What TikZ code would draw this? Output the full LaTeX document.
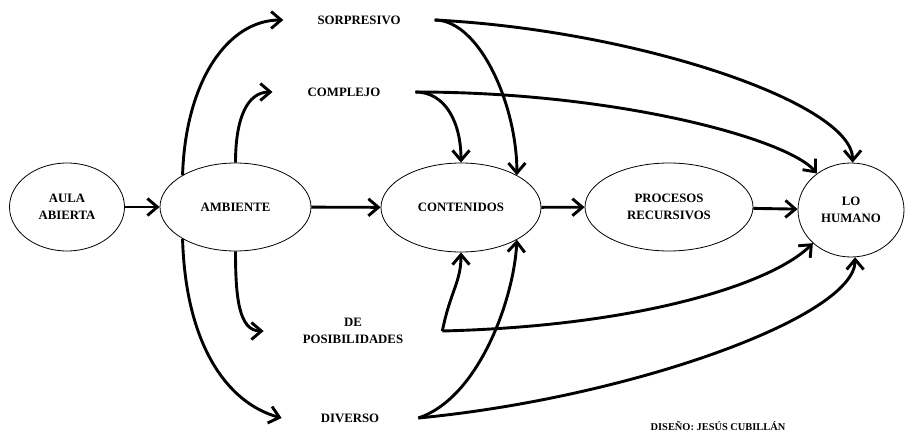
\documentclass[tikz,border=0pt]{standalone}
\usepackage{fontspec}
\setmainfont{Liberation Serif}
\usetikzlibrary{shapes.geometric,arrows.meta}
\begin{document}
\begin{tikzpicture}[x=1pt,y=-1pt,
    blob/.style={ellipse,draw,line width=0.8pt,inner sep=0pt,minimum height=88pt,
      align=center,font=\fontsize{12.8}{16.5}\selectfont\bfseries},
    tag/.style={inner xsep=35pt,inner ysep=0pt,align=center,
      font=\fontsize{12.8}{16.5}\selectfont\bfseries},
    flow/.style={line width=2.9pt,-{Straight Barb[length=10pt,width=17pt]}}]
  \useasboundingbox (0,0) rectangle (905,433);
  % main chain
  \node[blob,minimum width=115pt] (aula) at (67,207) {AULA\\ABIERTA};
  \node[blob,minimum width=151pt] (amb) at (235.5,207) {AMBIENTE};
  \node[blob,minimum width=160pt,minimum height=89pt] (con) at (461,207.5) {CONTENIDOS};
  \node[blob,minimum width=168pt] (proc) at (669,207) {PROCESOS\\RECURSIVOS};
  \node[blob,minimum width=106pt,minimum height=94pt] (hum) at (851,210) {LO\\HUMANO};
  \draw[flow] (aula) -- (amb);
  \draw[flow] (amb) -- (con);
  \draw[flow] (con) -- (proc);
  \draw[flow] (proc) -- (hum);
  % the four features
  \node[tag,inner xsep=34pt] (sor) at (359,20) {SORPRESIVO};
  \node[tag] (com) at (344,92) {COMPLEJO};
  \node[tag,inner xsep=39pt] (pos) at (353,331) {DE\\POSIBILIDADES};
  \node[tag,inner xsep=39pt] (div) at (350,418) {DIVERSO};
  \draw[flow] (amb.149) .. controls +(3,-95) and +(-55,0) .. (sor.west);
  \draw[flow] (amb.north) .. controls +(0,-45) and +(-25,0) .. (com.west);
  \draw[flow] (amb.south) .. controls +(0,45) and +(-25,0) .. (pos.west);
  \draw[flow] (amb.211) .. controls +(3,105) and +(-55,-15) .. (div.west);
  % into contenidos
  \draw[flow] (sor.east) .. controls +(45,0) and +(0,-70) .. (con.30);
  \draw[flow] (com.east) .. controls +(30,0) and +(0,-40) .. (con.north);
  \draw[flow] (pos.east) .. controls +(8,-40) and +(0,30) .. (con.south);
  \draw[flow] (div.east) .. controls +(60,-20) and +(-3,60) .. (con.330);
  % into lo humano
  \draw[flow] (sor.east) .. controls +(200,10) and +(0,-60) .. (hum.88);
  \draw[flow] (com.east) .. controls +(200,0) and +(-30,-35) .. (hum.133);
  \draw[flow] (pos.east) .. controls +(200,-5) and +(-40,40) .. (hum.221);
  \draw[flow] (div.east) .. controls +(210,-20) and +(0,60) .. (hum.275);
  \node[font=\fontsize{10.4}{12}\selectfont\bfseries] (firma) at (718,426) {DISEÑO: JESÚS CUBILLÁN};
\end{tikzpicture}
\end{document}
